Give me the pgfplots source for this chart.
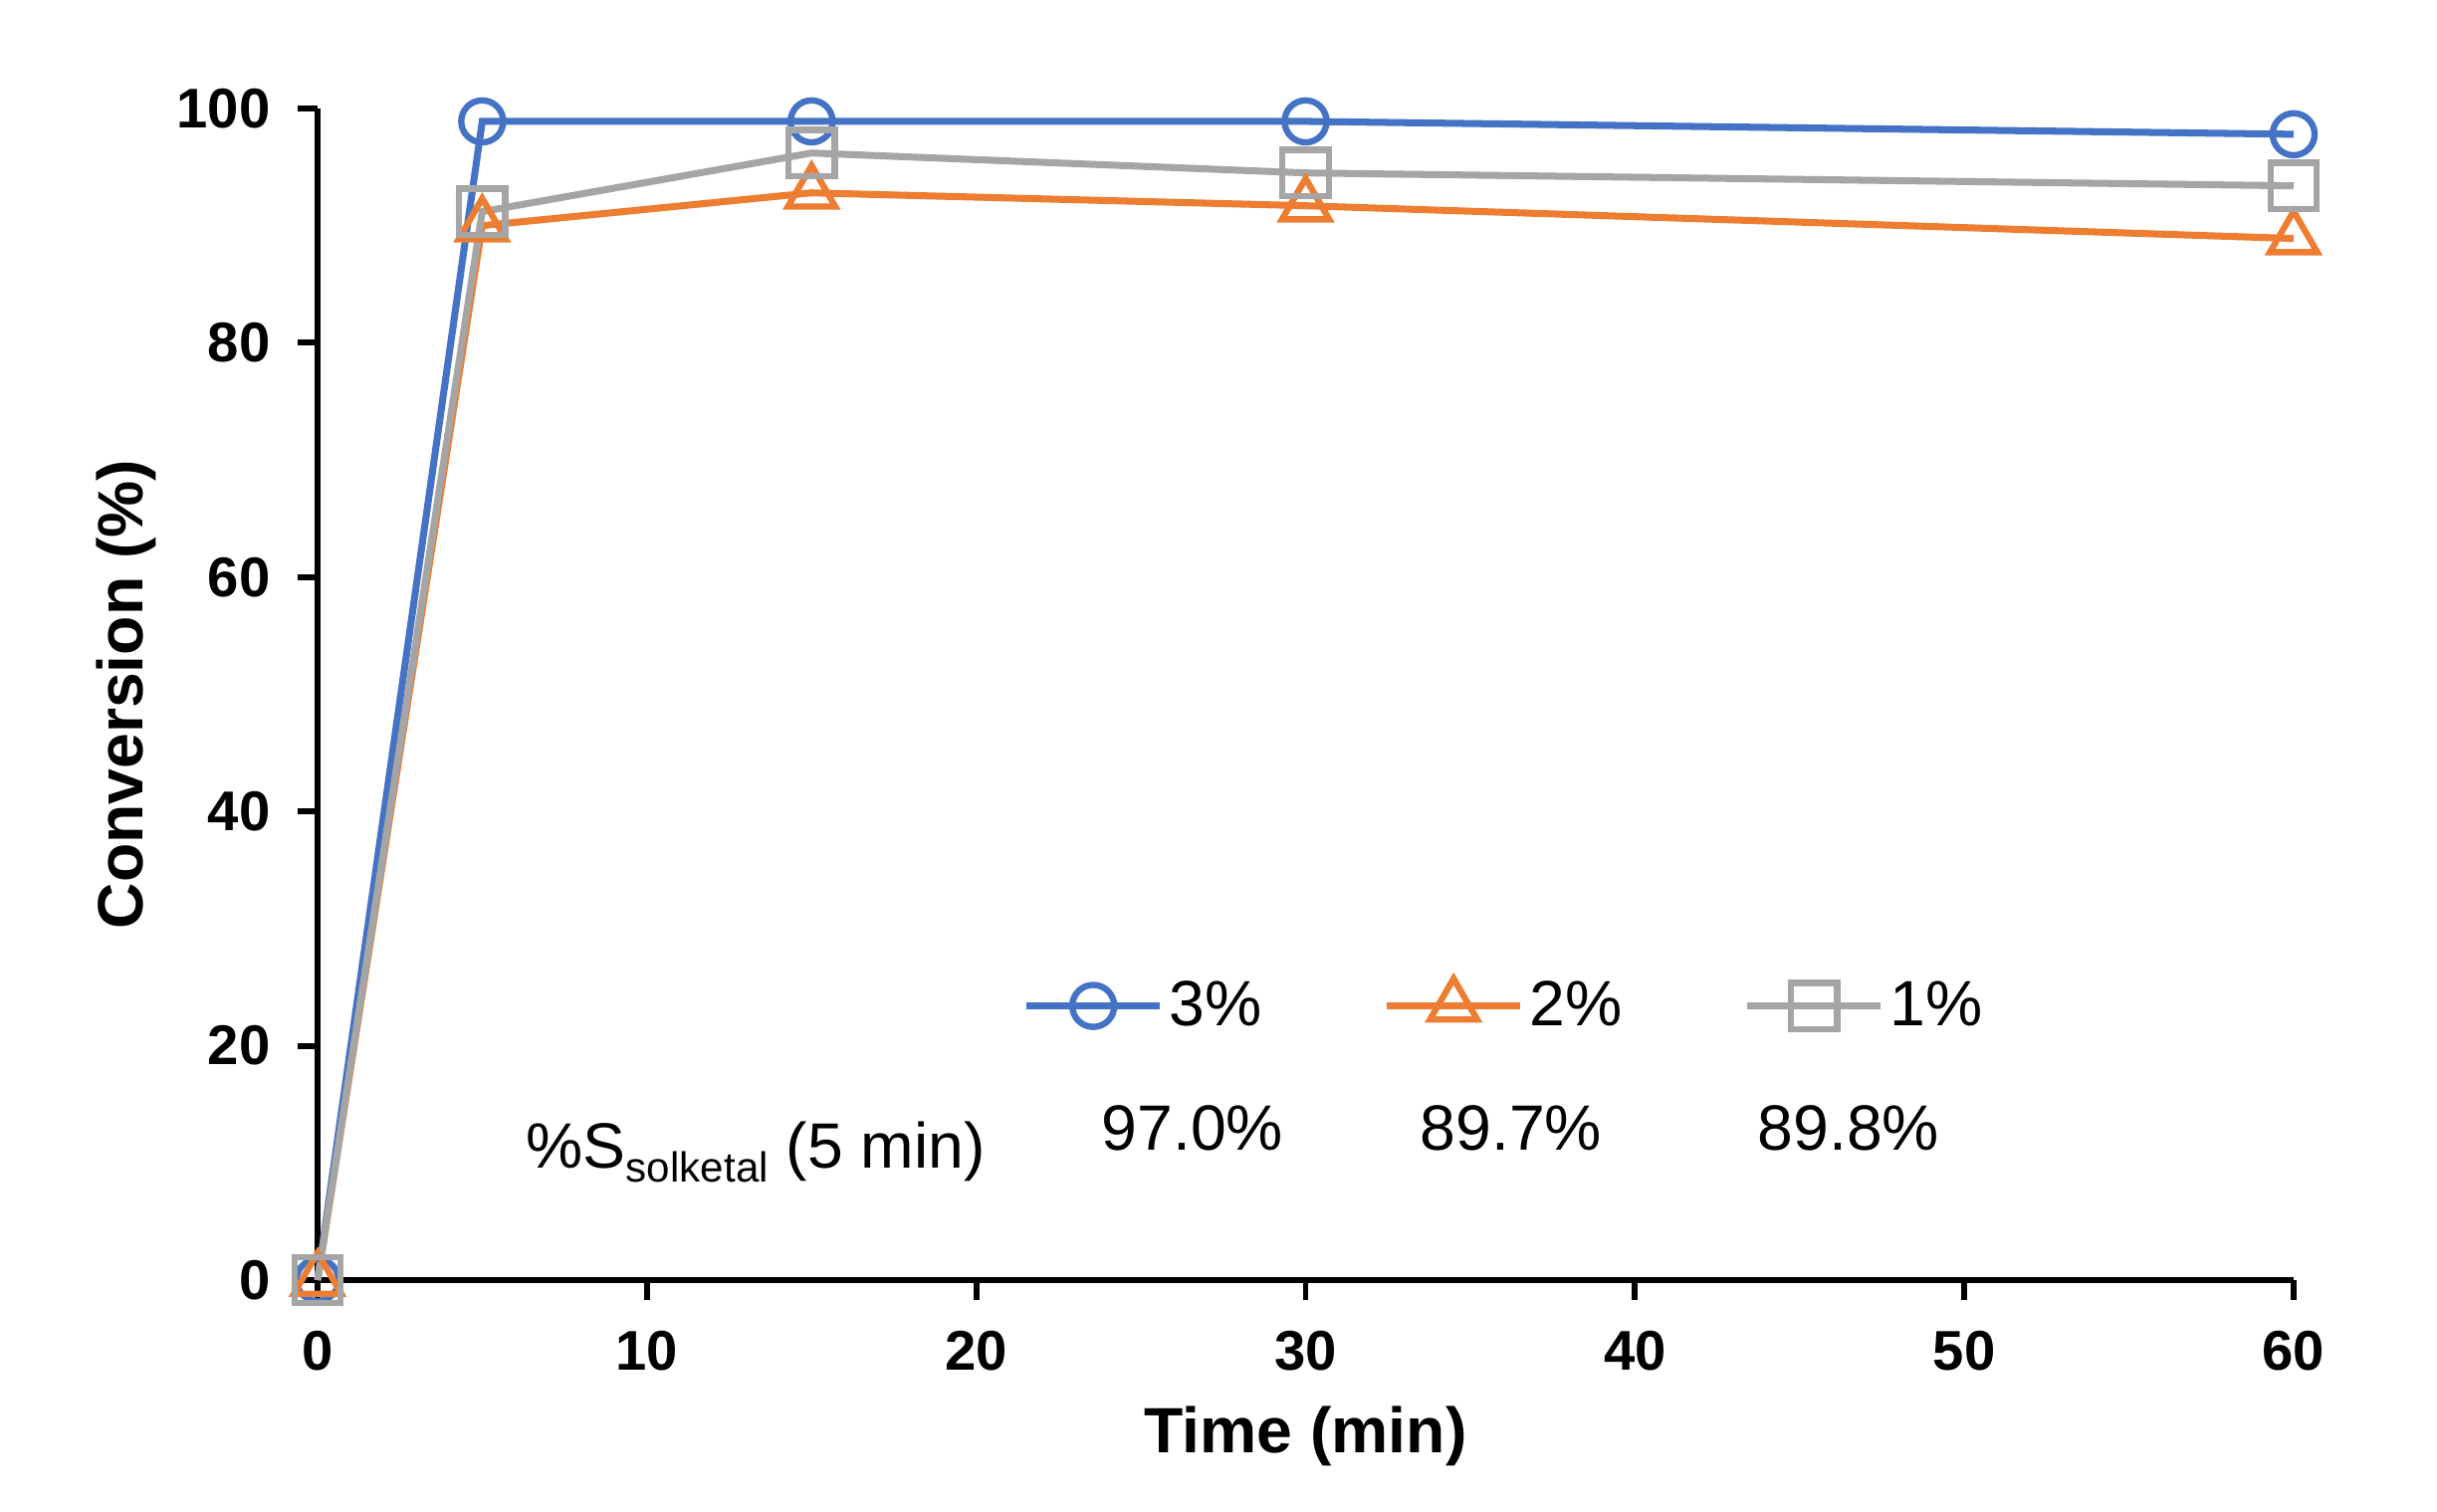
\documentclass[border=0pt]{standalone}
\usepackage{fontspec}
\setmainfont{Liberation Sans}
\usepackage{pgfplots}
\pgfplotsset{compat=1.18}
\definecolor{serblue}{HTML}{4472C4}
\definecolor{serorange}{HTML}{ED7D31}
\definecolor{sergray}{HTML}{A5A5A5}

\begin{document}
\begin{tikzpicture}
  \path[use as bounding box] (0,0) rectangle (24.48,15.18);
  \begin{axis}[
      at={(3.19cm,2.32cm)}, anchor=south west,
      scale only axis,
      width=19.85cm, height=11.77cm,
      xmin=0, xmax=60, ymin=0, ymax=100,
      xtick={0,10,20,30,40,50,60},
      ytick={0,20,40,60,80,100},
      axis x line=bottom, axis y line=left,
      axis line style={-, line width=1.7pt, black},
      tick align=outside,
      major tick length=0.2cm,
      major tick style={line width=1.7pt, black},
      /pgf/number format/assume math mode=true,
      ticklabel style={font=\fontsize{16}{16}\selectfont\bfseries},
      xticklabel style={anchor=north, inner sep=0pt, yshift=-0.31cm},
      yticklabel style={anchor=east, inner sep=0pt, xshift=-0.27cm},
      xlabel={Time (min)},
      ylabel={Conversion (\%)},
      label style={font=\fontsize{18.3}{18.3}\selectfont\bfseries},
      xlabel style={at={(axis description cs:0.5,0)}, anchor=base, inner sep=0pt, yshift=-1.73cm},
      ylabel style={at={(axis description cs:-0.0967,0.5)}, anchor=center, inner sep=0pt},
      clip=false,
      legend columns=3,
      legend style={draw=none, fill=none, inner sep=0pt,
        at={(axis cs:21.4,23.5)}, anchor=west,
        font=\fontsize{18.3}{18.3}\selectfont,
        nodes={inner sep=0pt},
        /tikz/every odd column/.append style={column sep=0.06cm},
        /tikz/every even column/.append style={column sep=1.22cm}},
      legend image code/.code={\draw[mark repeat=2, mark phase=2, #1]
        plot coordinates {(0cm,0cm) (0.67cm,0cm) (1.34cm,0cm)};},
    ]

    \addplot[color=serblue, line width=2pt, mark=o,
      mark options={line width=1.8pt}, mark size=6pt]
      coordinates {(0,0) (5,98.9) (15,98.9) (30,98.9) (60,97.8)};
    \addlegendentry{3\%}

    \addplot[color=serorange, line width=2pt, mark=triangle,
      mark options={line width=1.8pt}, mark size=7.8pt]
      coordinates {(0,0) (5,90.0) (15,92.8) (30,91.7) (60,88.9)};
    \addlegendentry{2\%}

    \addplot[color=sergray, line width=2pt, mark=square,
      mark options={line width=1.8pt}, mark size=6.6pt]
      coordinates {(0,0) (5,91.2) (15,96.2) (30,94.5) (60,93.4)};
    \addlegendentry{1\%}

    \node[anchor=base west, inner sep=0pt, font=\fontsize{18.3}{18.3}\selectfont]
      at (axis cs:6.32,9.60)
      {\%S\raisebox{-0.14cm}{\fontsize{12}{12}\selectfont solketal} (5 min)};
    \node[anchor=base west, inner sep=0pt, font=\fontsize{18.3}{18.3}\selectfont]
      at (axis cs:23.79,11.13) {97.0\%};
    \node[anchor=base west, inner sep=0pt, font=\fontsize{18.3}{18.3}\selectfont]
      at (axis cs:33.46,11.13) {89.7\%};
    \node[anchor=base west, inner sep=0pt, font=\fontsize{18.3}{18.3}\selectfont]
      at (axis cs:43.71,11.13) {89.8\%};
  \end{axis}
\end{tikzpicture}
\end{document}
